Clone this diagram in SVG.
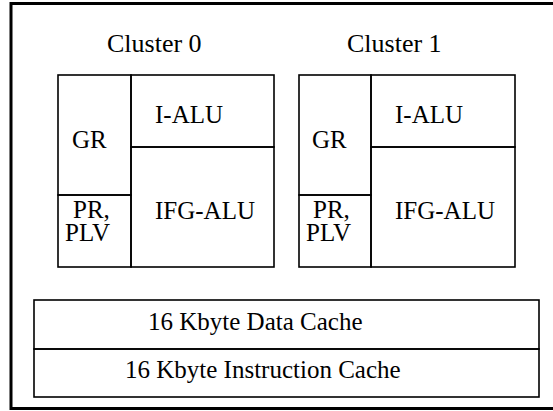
<svg xmlns="http://www.w3.org/2000/svg" width="553" height="411" viewBox="0 0 553 411">
<style>
.box{fill:none;stroke:#000;stroke-width:1.6}
.outer{fill:none;stroke:#000;stroke-width:3}
.t{font-family:'Liberation Serif', 'DejaVu Serif', 'Times New Roman', Times, serif;font-size:25px;fill:#000}
.title{font-size:26px}
</style>
<rect width="553" height="411" fill="#fff"/>
<rect id="chip" class="outer" x="11" y="3.5" width="560" height="405"/>
<g id="cluster0" class="t" font-family="Liberation Serif, serif">
  <text class="title" x="107" y="52">Cluster 0</text>
  <g id="c0-gr"><rect class="box" x="58" y="75" width="73" height="120"/><text x="72" y="148">GR</text></g>
  <g id="c0-pr"><rect class="box" x="58" y="195" width="73" height="72"/><text x="73" y="218">PR,</text><text x="65" y="241">PLV</text></g>
  <g id="c0-ialu"><rect class="box" x="131" y="75" width="143" height="72"/><text x="155" y="123">I-ALU</text></g>
  <g id="c0-ifg"><rect class="box" x="131" y="147" width="143" height="120"/><text x="155" y="219">IFG-ALU</text></g>
</g>
<g id="cluster1" class="t" font-family="Liberation Serif, serif">
  <text class="title" x="347" y="52">Cluster 1</text>
  <g id="c1-gr"><rect class="box" x="299" y="75" width="72" height="120"/><text x="312" y="148">GR</text></g>
  <g id="c1-pr"><rect class="box" x="299" y="195" width="72" height="72"/><text x="313" y="218">PR,</text><text x="306" y="241">PLV</text></g>
  <g id="c1-ialu"><rect class="box" x="371" y="75" width="144" height="72"/><text x="395" y="123">I-ALU</text></g>
  <g id="c1-ifg"><rect class="box" x="371" y="147" width="144" height="120"/><text x="395" y="219">IFG-ALU</text></g>
</g>
<g id="dcache" class="t" font-family="Liberation Serif, serif"><rect class="box" x="34" y="300" width="505" height="49"/><text x="148" y="330">16 Kbyte Data Cache</text></g>
<g id="icache" class="t" font-family="Liberation Serif, serif"><rect class="box" x="34" y="349" width="505" height="48"/><text x="125" y="378">16 Kbyte Instruction Cache</text></g>
<g id="connectors"></g>
</svg>
